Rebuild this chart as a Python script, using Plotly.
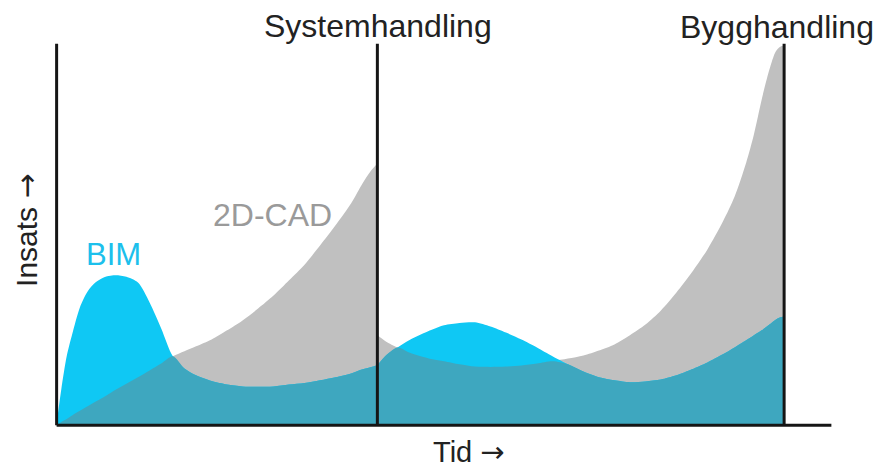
import plotly.graph_objects as go

# Time axis (arbitrary units 0-100), effort axis (arbitrary units 0-100)
phase_labels = ["Systemhandling", "Bygghandling"]
phase_positions = [41.4, 93.9]

# Section 1: start -> Systemhandling
t1 = [0, 0.6, 1.3, 2, 3, 4, 5, 6, 7.5, 9, 10.5, 12, 13.5, 15, 16.5, 18, 20, 22,
      24, 26, 28, 30, 32, 34, 36, 38, 39.5, 40.5, 41.4]
cad1 = [0, 0.9, 1.7, 2.6, 3.8, 5.0, 6.2, 7.3, 9.2, 10.9, 12.6, 14.4, 16.2, 18.1,
        19.4, 20.7, 22.5, 24.9, 27.5, 30.6, 34.0, 38.0, 42.1, 47.1, 52.4, 58.1,
        63.4, 66.5, 68.6]
bim1 = [0.5, 9.4, 18.1, 23.8, 30.9, 35.1, 37.4, 38.7, 39.3, 38.9, 37.4, 32.2,
        25.4, 18.1, 14.9, 13.1, 11.6, 10.7, 10.2, 10.1, 10.2, 10.7, 11.1, 11.8,
        12.6, 13.6, 14.7, 15.2, 15.8]

# Section 2: Systemhandling -> Bygghandling
t2 = [41.4, 42.5, 44, 45.5, 47, 48.5, 50, 52, 54, 56, 58, 60, 62, 64, 66, 68,
      70, 72, 74, 76, 78, 80, 82, 84, 86, 87.5, 89, 90, 91, 92, 92.8, 93.4, 93.9]
cad2 = [23.6, 22.0, 20.4, 19.1, 18.1, 17.3, 16.8, 16.0, 15.4, 15.3, 15.4, 15.7,
        16.2, 16.8, 17.5, 18.3, 19.6, 21.2, 23.6, 26.4, 30.1, 34.8, 40.1, 46.1,
        53.4, 59.9, 68.8, 76.2, 85.3, 93.2, 97.9, 99.2, 99.5]
bim2 = [15.8, 18.3, 20.4, 22.3, 23.8, 25.1, 26.2, 26.8, 27.0, 25.9, 24.3, 22.5,
        20.4, 18.1, 16.0, 14.1, 12.6, 11.8, 11.3, 11.5, 12.0, 13.1, 14.7, 16.5,
        18.6, 20.4, 22.3, 23.6, 24.9, 26.4, 27.7, 28.3, 28.5]

GRAY = "#c0c0c0"
CYAN = "#0fc8f4"
TEAL = "#3ea7bf"
INK = "#151515"
FONT = "Liberation Sans, Arial, sans-serif"
ARROW = "<span style=\"font-family:'DejaVu Sans'\">→</span>"

X_RANGE = [-1.5, 101.5]
Y_RANGE = [-2, 102]


def xp(t):
    return (t - X_RANGE[0]) / (X_RANGE[1] - X_RANGE[0])


def yp(v):
    return (v - Y_RANGE[0]) / (Y_RANGE[1] - Y_RANGE[0])


fig = go.Figure()


def area(x, y, color):
    fig.add_trace(go.Scatter(
        x=x, y=y, mode="lines", fill="tozeroy", fillcolor=color,
        line=dict(color=color, width=0, shape="spline", smoothing=0.8),
        hoverinfo="skip", showlegend=False))


# 2D-CAD (gray)
area(t1, cad1, GRAY)
area(t2, cad2, GRAY)
# BIM (cyan)
area(t1 + t2[1:], bim1 + bim2[1:], CYAN)
# overlap (teal)
area(t1, [min(a, b) for a, b in zip(cad1, bim1)], TEAL)
area(t2, [min(a, b) for a, b in zip(cad2, bim2)], TEAL)

# axes and phase lines
shapes = [
    dict(type="line", x0=0, x1=0, y0=0, y1=100, xref="x", yref="y",
         line=dict(color=INK, width=3), layer="above"),
    dict(type="line", x0=0, x1=100, y0=0, y1=0, xref="x", yref="y",
         line=dict(color=INK, width=3), layer="above"),
]
for p in phase_positions:
    shapes.append(dict(type="line", x0=p, x1=p, y0=0, y1=100, xref="x", yref="y",
                       line=dict(color=INK, width=3), layer="above"))

annotations = [
    dict(x=xp(41.5), y=yp(104.5), text=phase_labels[0], font=dict(size=32, color="#222")),
    dict(x=xp(93.0), y=yp(104.3), text=phase_labels[1], font=dict(size=32, color="#222")),
    dict(x=xp(27.9), y=yp(55.2), text="2D-CAD", font=dict(size=32, color="#9a9a9a")),
    dict(x=xp(7.4), y=yp(44.8), text="BIM", font=dict(size=31, color="#1cc0ec")),
    dict(x=xp(53.2), y=yp(-6.9), text="Tid " + ARROW, font=dict(size=29, color="#222")),
    dict(x=xp(-3.9), y=yp(51.3), text="Insats " + ARROW, textangle=-90,
         font=dict(size=30, color="#222")),
]
for a in annotations:
    a.update(xref="paper", yref="paper", showarrow=False,
             xanchor="center", yanchor="middle")
    a["font"]["family"] = FONT

fig.update_layout(
    width=874, height=462,
    margin=dict(l=37, r=39, t=28, b=37),
    paper_bgcolor="white", plot_bgcolor="white",
    xaxis=dict(range=X_RANGE, visible=False, fixedrange=True),
    yaxis=dict(range=Y_RANGE, visible=False, fixedrange=True),
    shapes=shapes, annotations=annotations,
    showlegend=False,
)

fig.write_html("out.html")
